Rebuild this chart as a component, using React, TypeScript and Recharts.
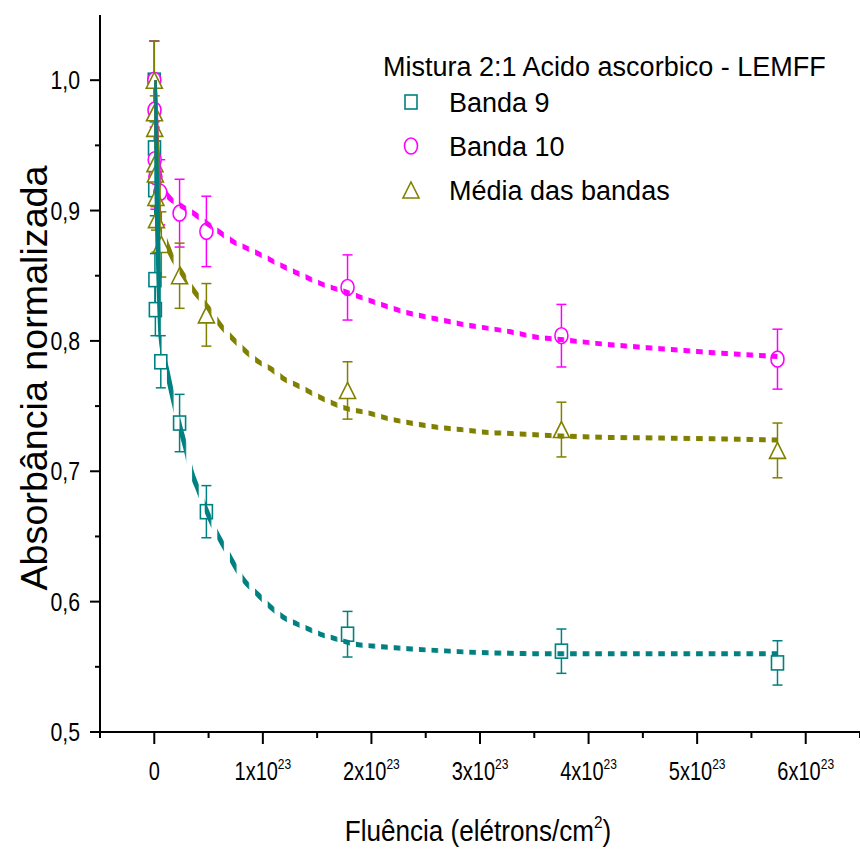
import React from 'react';
import { ComposedChart, Scatter, Line, XAxis, YAxis, ErrorBar, Legend, Label } from 'recharts';

const FONT = '"Liberation Sans", Arial, Helvetica, sans-serif';
const TEAL = '#008080';
const MAGENTA = '#FF00FF';
const OLIVE = '#808000';

// Fluence in units of 1e23 electrons/cm^2, normalized absorbance, error
const banda9 = [
  { x: 0, y: 1.0, err: 0.03 },
  { x: 0.002, y: 0.948, err: 0.02 },
  { x: 0.004, y: 0.916, err: 0.02 },
  { x: 0.006, y: 0.847, err: 0.02 },
  { x: 0.01, y: 0.824, err: 0.02 },
  { x: 0.06, y: 0.784, err: 0.02 },
  { x: 0.233, y: 0.737, err: 0.022 },
  { x: 0.48, y: 0.669, err: 0.02 },
  { x: 1.78, y: 0.575, err: 0.0175 },
  { x: 3.75, y: 0.562, err: 0.017 },
  { x: 5.74, y: 0.553, err: 0.017 },
];

const banda10 = [
  { x: 0, y: 1.0, err: 0.03 },
  { x: 0.002, y: 0.977, err: 0.025 },
  { x: 0.004, y: 0.939, err: 0.025 },
  { x: 0.01, y: 0.926, err: 0.025 },
  { x: 0.055, y: 0.914, err: 0.025 },
  { x: 0.233, y: 0.898, err: 0.026 },
  { x: 0.48, y: 0.884, err: 0.027 },
  { x: 1.78, y: 0.841, err: 0.025 },
  { x: 3.75, y: 0.804, err: 0.024 },
  { x: 5.74, y: 0.786, err: 0.023 },
];

const mediaBandas = [
  { x: 0, y: 1.0, err: 0.03 },
  { x: 0.002, y: 0.975, err: 0.025 },
  { x: 0.004, y: 0.963, err: 0.025 },
  { x: 0.006, y: 0.936, err: 0.025 },
  { x: 0.01, y: 0.928, err: 0.025 },
  { x: 0.015, y: 0.91, err: 0.025 },
  { x: 0.02, y: 0.893, err: 0.025 },
  { x: 0.065, y: 0.874, err: 0.025 },
  { x: 0.233, y: 0.85, err: 0.025 },
  { x: 0.48, y: 0.82, err: 0.024 },
  { x: 1.78, y: 0.762, err: 0.022 },
  { x: 3.75, y: 0.732, err: 0.021 },
  { x: 5.74, y: 0.716, err: 0.021 },
];

// Fitted curves
const fitBanda9 = [
  { x: 0, y: 1.0 }, { x: 0.01, y: 0.96 }, { x: 0.025, y: 0.906 }, { x: 0.04, y: 0.855 },
  { x: 0.062, y: 0.803 }, { x: 0.12, y: 0.776 }, { x: 0.175, y: 0.755 }, { x: 0.24, y: 0.733 },
  { x: 0.295, y: 0.716 }, { x: 0.34, y: 0.7 }, { x: 0.4, y: 0.687 }, { x: 0.48, y: 0.67 },
  { x: 0.59, y: 0.65 }, { x: 0.645, y: 0.642 }, { x: 0.82, y: 0.617 }, { x: 0.96, y: 0.605 },
  { x: 1.07, y: 0.596 }, { x: 1.19, y: 0.588 }, { x: 1.31, y: 0.583 }, { x: 1.42, y: 0.579 },
  { x: 1.53, y: 0.575 }, { x: 1.65, y: 0.572 }, { x: 1.88, y: 0.567 }, { x: 2.01, y: 0.566 },
  { x: 2.5, y: 0.563 }, { x: 3.0, y: 0.561 }, { x: 3.75, y: 0.56 }, { x: 4.5, y: 0.56 },
  { x: 5.74, y: 0.56 },
];

const fitBanda10 = [
  { x: 0, y: 1.0 }, { x: 0.02, y: 0.955 }, { x: 0.04, y: 0.932 }, { x: 0.07, y: 0.92 },
  { x: 0.117, y: 0.912 }, { x: 0.24, y: 0.904 }, { x: 0.36, y: 0.898 }, { x: 0.486, y: 0.89 },
  { x: 0.61, y: 0.883 }, { x: 0.73, y: 0.876 }, { x: 0.855, y: 0.871 }, { x: 0.98, y: 0.866 },
  { x: 1.19, y: 0.857 }, { x: 1.32, y: 0.852 }, { x: 1.53, y: 0.844 }, { x: 1.78, y: 0.837 },
  { x: 2.02, y: 0.83 }, { x: 2.36, y: 0.821 }, { x: 2.59, y: 0.817 }, { x: 2.82, y: 0.813 },
  { x: 3.05, y: 0.81 }, { x: 3.28, y: 0.807 }, { x: 3.51, y: 0.803 }, { x: 3.74, y: 0.801 },
  { x: 4.2, y: 0.797 }, { x: 4.66, y: 0.794 }, { x: 5.15, y: 0.791 }, { x: 5.74, y: 0.788 },
];

const fitMedia = [
  { x: 0, y: 1.0 }, { x: 0.02, y: 0.95 }, { x: 0.04, y: 0.915 }, { x: 0.07, y: 0.888 },
  { x: 0.13, y: 0.871 }, { x: 0.255, y: 0.852 }, { x: 0.378, y: 0.837 }, { x: 0.5, y: 0.825 },
  { x: 0.61, y: 0.812 }, { x: 0.73, y: 0.801 }, { x: 0.855, y: 0.791 }, { x: 0.96, y: 0.784 },
  { x: 1.085, y: 0.778 }, { x: 1.19, y: 0.771 }, { x: 1.315, y: 0.766 }, { x: 1.545, y: 0.756 },
  { x: 1.776, y: 0.748 }, { x: 1.96, y: 0.745 }, { x: 2.13, y: 0.741 }, { x: 2.36, y: 0.737 },
  { x: 2.59, y: 0.734 }, { x: 2.82, y: 0.732 }, { x: 3.05, y: 0.73 }, { x: 3.28, y: 0.729 },
  { x: 3.51, y: 0.728 }, { x: 3.74, y: 0.727 }, { x: 4.2, y: 0.726 }, { x: 4.66, y: 0.7255 },
  { x: 5.15, y: 0.725 }, { x: 5.74, y: 0.724 },
];

const xTicks = [-0.5, 0, 0.5, 1, 1.5, 2, 2.5, 3, 3.5, 4, 4.5, 5, 5.5, 6, 6.5];
const yTicks = [0.5, 0.55, 0.6, 0.65, 0.7, 0.75, 0.8, 0.85, 0.9, 0.95, 1.0];

const legendTitle = 'Mistura 2:1 Acido ascorbico - LEMFF';
const legendItems = [
  { name: 'Banda 9', color: TEAL, shape: 'square' },
  { name: 'Banda 10', color: MAGENTA, shape: 'circle' },
  { name: 'Média das bandas', color: OLIVE, shape: 'triangle' },
];
const xTitle = 'Fluência (elétrons/cm';
const yTitle = 'Absorbância normalizada';

const marker = (shape: string, color: string, cx: number, cy: number) => {
  if (shape === 'square') {
    return <rect x={cx - 6} y={cy - 7} width={12} height={14} fill="#fff" stroke={color} strokeWidth={1.6} />;
  }
  if (shape === 'circle') {
    return <ellipse cx={cx} cy={cy} rx={6.5} ry={8} fill="#fff" stroke={color} strokeWidth={1.6} />;
  }
  return (
    <polygon
      points={`${cx},${cy - 8} ${cx + 8},${cy + 8} ${cx - 8},${cy + 8}`}
      fill="#fff"
      stroke={color}
      strokeWidth={1.6}
    />
  );
};

const makeShape = (shape: string, color: string) => (p: any) =>
  p.cx == null || p.cy == null ? <g /> : marker(shape, color, p.cx, p.cy);

const XTick = ({ x, y, payload }: any) => {
  const v = payload.value as number;
  const major = Math.abs(v - Math.round(v)) < 1e-6;
  const n = Math.round(v);
  return (
    <g>
      <line x1={x} x2={x} y1={y} y2={y + (major ? 12 : 6)} stroke="#000" strokeWidth={2} />
      {major && (
        <text
          transform={`translate(${x},${y + 48}) scale(0.8,1)`}
          textAnchor="middle"
          fontSize={25}
          fontFamily={FONT}
          fill="#000"
        >
          {n === 0 ? (
            '0'
          ) : (
            <>
              {`${n}x10`}
              <tspan dy={-11} fontSize={15}>23</tspan>
            </>
          )}
        </text>
      )}
    </g>
  );
};

const YTick = ({ x, y, payload }: any) => {
  const v = payload.value as number;
  const major = Math.abs(v * 10 - Math.round(v * 10)) < 1e-6;
  return (
    <g>
      <line x1={x - (major ? 10 : 5)} x2={x} y1={y} y2={y} stroke="#000" strokeWidth={2} />
      {major && (
        <text
          transform={`translate(${x - 20},${y + 9}) scale(0.85,1)`}
          textAnchor="end"
          fontSize={25}
          fontFamily={FONT}
          fill="#000"
        >
          {v.toFixed(1).replace('.', ',')}
        </text>
      )}
    </g>
  );
};

const LegendBox = () => (
  <svg width={480} height={180} style={{ overflow: 'visible', display: 'block' }}>
    <text x={13} y={36} fontSize={27} fontFamily={FONT} fill="#000">
      {legendTitle}
    </text>
    {legendItems.map((it, i) => {
      const cy = 62 + i * 44;
      return (
        <g key={it.name}>
          {marker(it.shape, it.color, 41, cy)}
          <text x={79} y={cy + 10} fontSize={27} fontFamily={FONT} fill="#000">
            {it.name}
          </text>
        </g>
      );
    })}
  </svg>
);

const XTitle = () => (
  <text
    transform="translate(478,841) scale(0.9,1)"
    textAnchor="middle"
    fontSize={29}
    fontFamily={FONT}
    fill="#000"
  >
    {xTitle}
    <tspan dy={-13} fontSize={17}>2</tspan>
    <tspan dy={13}>)</tspan>
  </text>
);

const YTitle = () => (
  <text
    transform="translate(47,378) rotate(-90)"
    textAnchor="middle"
    fontSize={37}
    fontFamily={FONT}
    fill="#000"
    textLength={425}
    lengthAdjust="spacingAndGlyphs"
  >
    {yTitle}
  </text>
);

const fitLineProps = {
  dataKey: 'y',
  strokeWidth: 5,
  dot: false,
  activeDot: false,
  isAnimationActive: false,
  type: 'monotone' as const,
  legendType: 'none' as const,
  className: 'fit-line',
  zIndex: 700,
};

export default function App() {
  return (
    <div style={{ position: 'absolute', left: 0, top: 0, width: 860, height: 850, background: '#fff' }}>
      <style>{`.fit-line .recharts-line-curve, .fit-line path { mask: url(#dashMask); }`}</style>
      <svg width={0} height={0} style={{ position: 'absolute' }}>
        <defs>
          <pattern id="dashStripes" patternUnits="userSpaceOnUse" x={154.3} y={0} width={12.6} height={900}>
            <rect x={0} y={0} width={6.6} height={900} fill="#fff" />
          </pattern>
          <mask id="dashMask" maskUnits="userSpaceOnUse" x={0} y={0} width={860} height={850}>
            <rect x={0} y={0} width={860} height={850} fill="url(#dashStripes)" />
          </mask>
        </defs>
      </svg>
      <ComposedChart width={860} height={850} margin={{ top: 15, right: 0, bottom: 0, left: 0 }}>
        <XAxis
          type="number"
          dataKey="x"
          domain={[-0.5, 6.5]}
          ticks={xTicks}
          allowDataOverflow
          height={118}
          tickSize={0}
          tickMargin={0}
          tickLine={false}
          tick={<XTick />}
          axisLine={{ stroke: '#000', strokeWidth: 2 }}
          interval={0}
        >
          <Label content={<XTitle />} />
        </XAxis>
        <YAxis
          type="number"
          dataKey="y"
          domain={[0.5, 1.05]}
          ticks={yTicks}
          allowDataOverflow
          width={100}
          tickSize={0}
          tickMargin={0}
          tickLine={false}
          tick={<YTick />}
          axisLine={{ stroke: '#000', strokeWidth: 2 }}
          interval={0}
        >
          <Label content={<YTitle />} />
        </YAxis>
        <Legend
          content={<LegendBox />}
          layout="horizontal"
          verticalAlign="middle"
          align="center"
          wrapperStyle={{ position: 'absolute', left: 370, top: 40, width: 480, height: 180 }}
        />
        <Scatter name="Banda 9" data={banda9} shape={makeShape('square', TEAL)} isAnimationActive={false}>
          <ErrorBar dataKey="err" direction="y" width={5} stroke={TEAL} strokeWidth={1.5} isAnimationActive={false} />
        </Scatter>
        <Scatter name="Banda 10" data={banda10} shape={makeShape('circle', MAGENTA)} isAnimationActive={false}>
          <ErrorBar dataKey="err" direction="y" width={5} stroke={MAGENTA} strokeWidth={1.5} isAnimationActive={false} />
        </Scatter>
        <Scatter name="Média das bandas" data={mediaBandas} shape={makeShape('triangle', OLIVE)} isAnimationActive={false}>
          <ErrorBar dataKey="err" direction="y" width={5} stroke={OLIVE} strokeWidth={1.5} isAnimationActive={false} />
        </Scatter>
        <Line {...fitLineProps} data={fitBanda10} stroke={MAGENTA} />
        <Line {...fitLineProps} data={fitMedia} stroke={OLIVE} />
        <Line {...fitLineProps} data={fitBanda9} stroke={TEAL} />
      </ComposedChart>
    </div>
  );
}
